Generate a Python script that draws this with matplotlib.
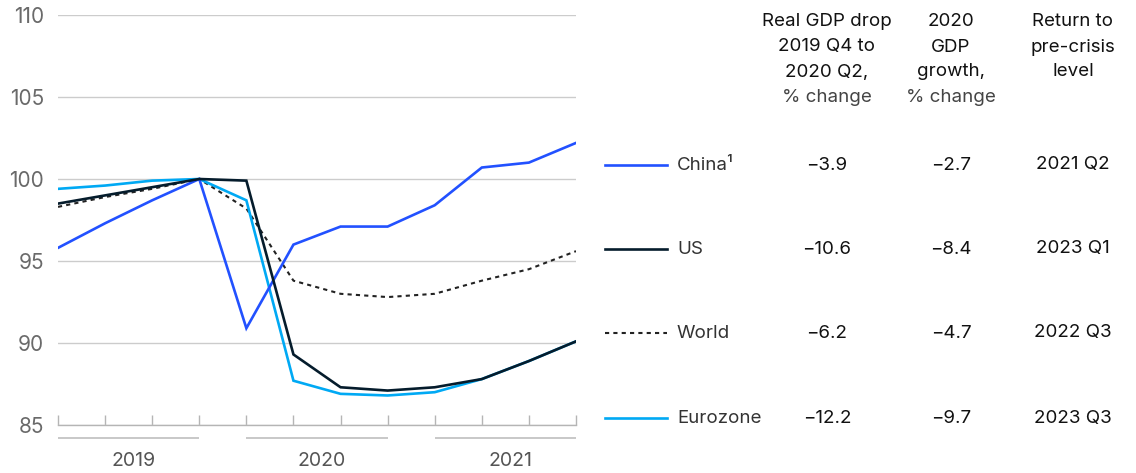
import matplotlib
matplotlib.use("Agg")
import matplotlib.pyplot as plt
from matplotlib.lines import Line2D
import matplotlib.transforms as mtransforms

plt.rcParams['font.family'] = ['Inter', 'DejaVu Sans']

# ---------------------- data ----------------------
quarters = list(range(12))          # 2019 Q1 .. 2021 Q4
years = ["2019", "2020", "2021"]
china    = [95.8, 97.3, 98.7, 100.0, 90.9, 96.0, 97.1, 97.1, 98.4, 100.7, 101.0, 102.2]
us       = [98.5, 99.0, 99.5, 100.0, 99.9, 89.3, 87.3, 87.1, 87.3, 87.8, 88.9, 90.1]
world    = [98.3, 98.9, 99.4, 100.0, 98.2, 93.8, 93.0, 92.8, 93.0, 93.8, 94.5, 95.6]
eurozone = [99.4, 99.6, 99.9, 100.0, 98.7, 87.7, 86.9, 86.8, 87.0, 87.8, 88.9, 90.1]

countries = ["China¹", "US", "World", "Eurozone"]
gdp_drop = ["−3.9", "−10.6", "−6.2", "−12.2"]
gdp_growth = ["−2.7", "−8.4", "−4.7", "−9.7"]
return_level = ["2021 Q2", "2023 Q1", "2022 Q3", "2023 Q3"]

# ---------------------- styles ----------------------
W, H = 1136, 473
styles = {
    "China¹":   dict(color="#2251ff", lw=1.9, ls="-"),
    "US":       dict(color="#051c2c", lw=1.9, ls="-"),
    "World":    dict(color="#222222", lw=1.5, ls=(0, (2, 2))),
    "Eurozone": dict(color="#00a9f4", lw=1.9, ls="-"),
}
series = {"China¹": china, "US": us, "World": world, "Eurozone": eurozone}
FS = 13.5

fig = plt.figure(figsize=(W / 100, H / 100), dpi=100)
ax_l, ax_r, ax_t, ax_b = 58, 576, 15, 425
ax = fig.add_axes([ax_l / W, 1 - ax_b / H, (ax_r - ax_l) / W, (ax_b - ax_t) / H])

for name in ["World", "Eurozone", "China¹", "US"]:
    st = styles[name]
    ax.plot(quarters, series[name], color=st["color"], lw=st["lw"], ls=st["ls"],
            solid_joinstyle="miter", zorder=3)

ax.set_xlim(0, 11)
ax.set_ylim(85, 110)
ax.set_yticks([85, 90, 95, 100, 105, 110])
ax.yaxis.grid(True, color="#cccccc", lw=1.0)
ax.set_axisbelow(True)
for s in ["top", "right", "left"]:
    ax.spines[s].set_visible(False)
ax.spines["bottom"].set_color("#b5b5b5")
ax.spines["bottom"].set_linewidth(1.0)
ax.tick_params(axis="y", length=0, pad=10, labelsize=15, labelcolor="#6a6a6a")
ax.set_xticks(quarters)
ax.set_xticklabels([])
ax.tick_params(axis="x", direction="in", length=7.5, width=1.0, color="#b5b5b5")

# year underlines and labels
trans = mtransforms.blended_transform_factory(ax.transData, ax.transAxes)
h_ax = ax_b - ax_t
for i, yr in enumerate(years):
    x0, x1 = quarters[4 * i], quarters[4 * i + 3]
    ax.plot([x0, x1], [-(438 - ax_b) / h_ax] * 2, color="#c4c4c4", lw=1.3,
            transform=trans, clip_on=False, solid_capstyle="butt")
    ax.text((x0 + x1) / 2 + 0.1, -(461 - ax_b) / h_ax, yr, transform=trans,
            ha="center", va="center", fontsize=14, color="#555555")

# ---------------------- table ----------------------
def fx(px):
    return px / W

def fy(py):
    return 1 - py / H

col_x = [827, 951, 1073]
headers = [
    ["Real GDP drop", "2019 Q4 to", "2020 Q2,", "% change"],
    ["2020", "GDP", "growth,", "% change"],
    ["Return to", "pre-crisis", "level"],
]
line_y = [22, 47, 72, 98]
for cx, lines in zip(col_x, headers):
    for j, txt in enumerate(lines):
        col = "#444444" if txt == "% change" else "#111111"
        fig.text(fx(cx), fy(line_y[j]), txt, ha="center", va="center",
                 fontsize=FS, color=col)

row_y = [165, 249, 333, 418]
for name, ry, d, g, r in zip(countries, row_y, gdp_drop, gdp_growth, return_level):
    st = styles[name]
    fig.add_artist(Line2D([fx(605), fx(667)], [fy(ry), fy(ry)], color=st["color"],
                          lw=st["lw"], ls=st["ls"], transform=fig.transFigure))
    fig.text(fx(677), fy(ry), name, ha="left", va="center", fontsize=FS, color="#333333")
    fig.text(fx(col_x[0]), fy(ry), d, ha="center", va="center", fontsize=FS, color="#111111")
    fig.text(fx(col_x[1]), fy(ry), g, ha="center", va="center", fontsize=FS, color="#111111")
    fig.text(fx(col_x[2]), fy(ry), r, ha="center", va="center", fontsize=FS, color="#111111")

fig.savefig("out.png", dpi=100, facecolor="white")
